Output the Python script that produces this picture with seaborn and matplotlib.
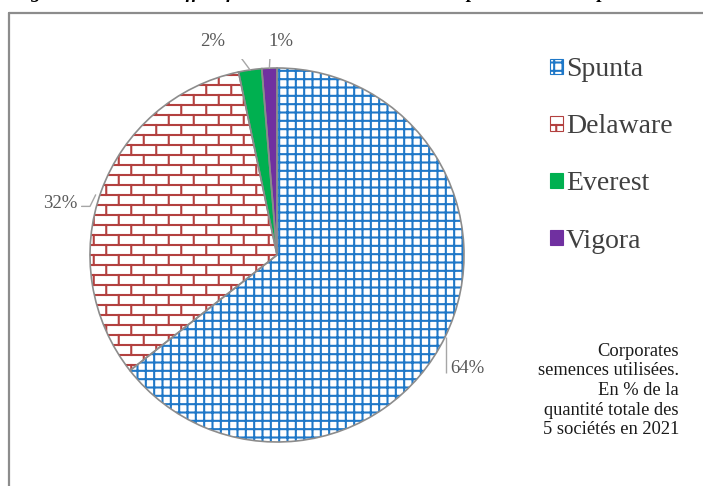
import warnings
import numpy as np
import matplotlib
matplotlib.use("Agg")
import matplotlib.pyplot as plt
import matplotlib.hatch as mhatch
from matplotlib.path import Path
from matplotlib.lines import Line2D
import seaborn as sns

warnings.filterwarnings("ignore")

# ---------------- data ----------------
varieties = ["Spunta", "Delaware", "Everest", "Vigora"]
shares = [64.4, 32.3, 2.0, 1.3]
pct_labels = ["64%", "32%", "2%", "1%"]
fill_colors = ["white", "white", "#00B050", "#7030A0"]
hatch_colors = ["#1F78C8", "#B3403F", "#00B050", "#7030A0"]
hatches = ["++", "B", "", ""]
note = "Corporates\nsemences utilisées.\nEn % de la\nquantité totale des\n5 sociétés en 2021"
title = ("Figure 3 : Parts des effectifs des variétés de semences importées "
         "en 2021 par les sociétés")

# --------------- brick hatch ---------------
class BrickHatch(mhatch.HatchPatternBase):
    def __init__(self, hatch, density):
        n = hatch.count("B")
        self.rows = 10 if n else 0
        self.cols = 4
        if n:
            self.num_lines = self.rows + (self.rows + 1) * self.cols
        else:
            self.num_lines = 0
        self.num_vertices = self.num_lines * 2

    def set_vertices_and_codes(self, vertices, codes):
        rows, cols = self.rows, self.cols
        ys = [(k + 0.5) / rows for k in range(rows)]
        segs = []
        for y in ys:
            segs.append(((0.0, y), (1.0, y)))
        for k in range(rows - 1):
            for c in range(cols):
                x = (c + 0.25 + 0.5 * (k % 2)) / cols
                segs.append(((x, ys[k]), (x, ys[k + 1])))
        k = rows - 1
        for c in range(cols):
            x = (c + 0.25 + 0.5 * (k % 2)) / cols
            segs.append(((x, ys[-1]), (x, 1.0)))
            segs.append(((x, 0.0), (x, ys[0])))
        v = np.array([p for s in segs for p in s], dtype=float)
        vertices[:] = v
        codes[0::2] = Path.MOVETO
        codes[1::2] = Path.LINETO

mhatch._hatch_types.append(BrickHatch)

# --------------- style ---------------
sns.set_theme(style="white")
plt.rcParams["font.family"] = ["Liberation Serif", "DejaVu Serif"]
plt.rcParams["hatch.linewidth"] = 1.5

W, H = 703, 486
fig = plt.figure(figsize=(W / 100, H / 100), dpi=100)
fig.patch.set_facecolor("white")

cx, cy, R = 277, 255, 187  # pie centre / radius in pixels
lim = 1.05
side = 2 * R * lim
ax = fig.add_axes([(cx - side / 2) / W, (H - cy - side / 2) / H, side / W, side / H])

wedges, _ = ax.pie(shares, startangle=90, counterclock=False,
                   colors=fill_colors, hatch=hatches,
                   wedgeprops=dict(linewidth=0))
for w, hc in zip(wedges, hatch_colors):
    w.set_edgecolor(hc)
    w.set_linewidth(0)

# outline
outline, _ = ax.pie(shares, startangle=90, counterclock=False,
                    colors=["none"] * len(shares),
                    wedgeprops=dict(linewidth=1.2, edgecolor="#8C8C8C", facecolor="none"))
ax.set_xlim(-lim, lim)
ax.set_ylim(-lim, lim)
ax.set_aspect("equal")
ax.axis("off")

# --------------- labels with leader lines ---------------
lc = "#A6A6A6"
tc = "#595959"
fs_lab = 13.5

def mid_point(w):
    a = np.deg2rad((w.theta1 + w.theta2) / 2)
    return np.cos(a), np.sin(a)

# Spunta
ex, ey = mid_point(wedges[0])
ax.plot([ex + 0.005, ex + 0.005], [ey, -0.63], color=lc, lw=1, solid_capstyle="butt")
ax.text(ex + 0.025, -0.605, pct_labels[0], ha="left", va="center", fontsize=fs_lab, color=tc)
# Delaware
ex, ey = mid_point(wedges[1])
ax.plot([ex - 0.03, -1.0, -1.045], [ey - 0.02, 0.26, 0.26], color=lc, lw=1)
ax.text(-1.065, 0.278, pct_labels[1], ha="right", va="center", fontsize=fs_lab, color=tc)
# Everest
ex, ey = mid_point(wedges[2])
ax.plot([ex, -0.235, -0.265], [ey, 1.112, 1.112], color=lc, lw=1)
ax.text(-0.28, 1.14, pct_labels[2], ha="right", va="center", fontsize=fs_lab, color=tc)
# Vigora
ex, ey = mid_point(wedges[3])
ax.plot([ex, ex + 0.005], [ey, 1.086], color=lc, lw=1)
ax.text(0.02, 1.14, pct_labels[3], ha="center", va="center", fontsize=fs_lab, color=tc)

# --------------- legend ---------------
leg = fig.legend(wedges, varieties, loc="upper left",
                 bbox_to_anchor=(550 / W, (H - 57) / H),
                 frameon=False, fontsize=20, handlelength=0.45, handleheight=0.45,
                 handletextpad=0.12, labelspacing=1.16, borderpad=0, borderaxespad=0,
                 labelcolor="#404040")
for h in leg.legend_handles:
    h.set_linewidth(0.8)

# --------------- note ---------------
fig.text(679 / W, (H - 390.5) / H, note, ha="right", va="center",
         fontsize=13.3, color="#1A1A1A", linespacing=1.2)

# --------------- frame and cut title ---------------
fig.add_artist(Line2D([8.5 / W, 8.5 / W], [-0.01, (H - 13) / H], transform=fig.transFigure,
                      color="#8C8C8C", lw=1.6))
fig.add_artist(Line2D([8.5 / W, 1.01], [(H - 13) / H, (H - 13) / H], transform=fig.transFigure,
                      color="#8C8C8C", lw=1.6))
fig.text(13 / W, (H + 2.5) / H, title, ha="left", va="baseline", fontsize=14,
         fontweight="bold", style="italic", color="black")

fig.savefig("out.png", dpi=100)
